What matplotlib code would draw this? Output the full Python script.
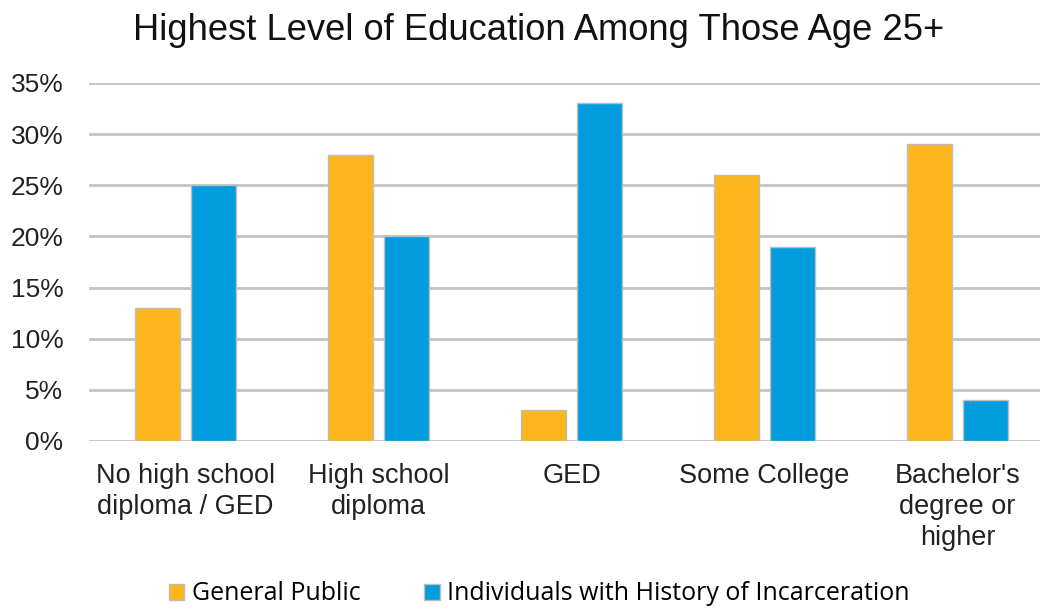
import matplotlib
matplotlib.use("Agg")
import matplotlib.pyplot as plt
import numpy as np
from matplotlib.patches import Patch

categories = ["No high school\ndiploma / GED", "High school\ndiploma", "GED",
              "Some College", "Bachelor's\ndegree or\nhigher"]
general_public = [13, 28, 3, 26, 29]
incarcerated = [25, 20, 33, 19, 4]
series_names = ["General Public", "Individuals with History of Incarceration"]
yticks = [0, 5, 10, 15, 20, 25, 30, 35]
title = "Highest Level of Education Among Those Age 25+"

orange = "#FDB71C"
blue = "#009CDE"
edge = "#BDBDBD"

W, H = 1045, 609
fig = plt.figure(figsize=(W / 100, H / 100), dpi=100)
left, right, bottom, top = 89, 1040, 441, 83
ax = fig.add_axes([left / W, 1 - bottom / H, (right - left) / W, (bottom - top) / H])

x = np.arange(len(categories))
bw = 0.233
off = 0.145
ax.bar(x - off, general_public, bw, color=orange, edgecolor=edge, linewidth=1, zorder=3)
ax.bar(x + off, incarcerated, bw, color=blue, edgecolor=edge, linewidth=1, zorder=3)

ax.set_xlim(-0.5, -0.5 + (right - left) / 193)
ax.set_ylim(0, 35)
ax.set_yticks(yticks)
ax.set_yticklabels([f"{v}%" for v in yticks], fontsize=19, family="Liberation Sans", color="#222222")
ax.yaxis.grid(True, color="#C4C4C4", linewidth=2, zorder=0)
ax.set_axisbelow(True)
ax.tick_params(axis="y", length=0, pad=18.5)
ax.tick_params(axis="x", length=0, pad=15.5)
ax.set_xticks(x)
ax.set_xticklabels(categories, fontsize=19.5, family="Liberation Sans", color="#222222", linespacing=1.27)
for s in ax.spines.values():
    s.set_visible(False)

fig.text(539 / W, 1 - 30 / H, title, ha="center", va="center", fontsize=26.2,
         family="Liberation Sans", color="#111111")

handles = [Patch(facecolor=orange, edgecolor=edge), Patch(facecolor=blue, edgecolor=edge)]
fig.legend(handles, series_names, loc="center", bbox_to_anchor=(539 / W, 1 - 594 / H),
           ncol=2, frameon=False, prop={"family": "Open Sans", "size": 18},
           handlelength=0.62, handleheight=0.62, handletextpad=0.3, columnspacing=2.55)

fig.savefig("out.png", dpi=100)
